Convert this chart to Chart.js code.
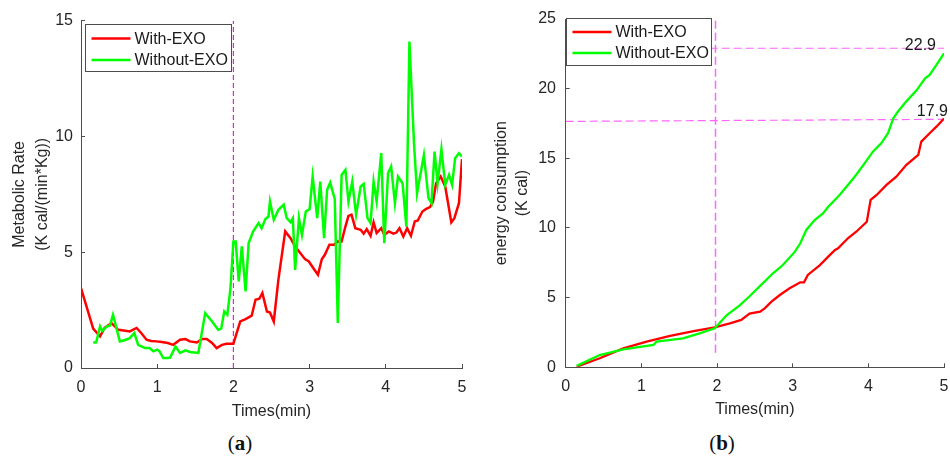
<!DOCTYPE html>
<html><head><meta charset="utf-8">
<script src="https://cdn.jsdelivr.net/npm/chart.js@4.4.0/dist/chart.umd.min.js"></script>
<style>
html,body{margin:0;padding:0;background:#fff;width:950px;height:458px;overflow:hidden;}
canvas{position:absolute;top:0;}
#ca{left:0;} #cb{left:475px;}
.cap{position:absolute;top:430px;width:60px;text-align:center;font-family:"Liberation Serif","Times New Roman",serif;font-size:21px;line-height:26px;color:#111;}
</style></head><body>
<canvas id="ca" width="475" height="430" style="width:475px;height:430px"></canvas>
<canvas id="cb" width="475" height="430" style="width:475px;height:430px"></canvas>
<div class="cap" style="left:210px">(<b>a</b>)</div>
<div class="cap" style="left:692px">(<b>b</b>)</div>
<script>
// ---------- data ----------
const seriesNames = ['With-EXO', 'Without-EXO'];
const xTicks = [0, 1, 2, 3, 4, 5];
const yTicksA = [0, 5, 10, 15];
const yTicksB = [0, 5, 10, 15, 20, 25];

// (a) metabolic rate
const timeWithA = [0,0.16,0.25,0.31,0.40,0.49,0.56,0.64,0.73,0.79,0.86,0.92,0.99,1.06,1.14,1.21,1.30,1.37,1.43,1.52,1.59,1.65,1.72,1.78,1.85,1.91,2.0,2.09,2.16,2.24,2.29,2.34,2.38,2.44,2.48,2.53,2.59,2.68,2.75,2.81,2.88,2.94,2.99,3.05,3.11,3.16,3.20,3.26,3.32,3.37,3.42,3.47,3.51,3.55,3.60,3.67,3.71,3.75,3.80,3.84,3.88,3.94,3.98,4.04,4.10,4.14,4.18,4.23,4.28,4.33,4.38,4.42,4.48,4.53,4.58,4.62,4.66,4.72,4.78,4.86,4.90,4.96,5.0];
const rateWith = [3.45,1.7,1.37,1.73,1.94,1.65,1.62,1.58,1.73,1.51,1.22,1.17,1.15,1.12,1.08,1.0,1.22,1.25,1.15,1.10,1.25,1.25,1.08,0.86,1.0,1.05,1.05,2.01,2.11,2.26,2.95,2.99,3.24,2.44,2.4,2.01,3.81,5.9,5.61,5.25,4.96,4.7,4.6,4.31,4.03,4.7,4.89,5.32,5.32,5.46,5.46,6.11,6.57,6.62,6.04,5.97,5.8,6.0,5.71,6.29,5.83,6.04,5.75,5.9,5.8,5.85,6.04,5.68,6.04,5.71,6.33,6.37,6.76,6.87,6.95,7.19,7.98,8.27,7.84,6.29,6.47,7.12,9.02];
const timeWithoutA = [0.16,0.20,0.25,0.28,0.34,0.38,0.42,0.51,0.57,0.64,0.70,0.75,0.84,0.90,0.95,1.0,1.03,1.08,1.14,1.17,1.24,1.30,1.37,1.43,1.54,1.63,1.72,1.80,1.84,1.88,1.92,1.96,2.0,2.03,2.07,2.11,2.16,2.20,2.26,2.33,2.37,2.42,2.46,2.48,2.53,2.59,2.66,2.70,2.75,2.78,2.81,2.86,2.90,2.95,3.0,3.04,3.10,3.14,3.19,3.23,3.27,3.33,3.37,3.42,3.47,3.51,3.56,3.61,3.67,3.71,3.76,3.80,3.84,3.88,3.94,3.98,4.03,4.07,4.12,4.16,4.22,4.27,4.31,4.37,4.41,4.50,4.56,4.60,4.64,4.68,4.73,4.78,4.83,4.87,4.91,4.96,5.0];
const rateWithout = [1.1,1.11,1.8,1.6,1.8,1.83,2.3,1.15,1.2,1.29,1.51,1.0,0.86,0.86,0.72,0.79,0.72,0.43,0.43,0.45,0.93,0.65,0.76,0.69,0.65,2.37,2.01,1.65,1.7,2.44,2.3,3.38,5.46,5.46,3.74,5.25,3.31,5.4,5.9,6.26,6.04,6.43,6.54,7.19,6.4,6.83,7.05,6.47,6.3,6.47,4.24,6.47,5.75,6.76,6.86,8.27,6.47,8.05,5.61,7.7,8.01,7.3,1.94,8.34,8.56,7.19,8.05,6.62,7.84,7.95,6.47,6.26,8.05,7.19,9.28,5.39,8.42,8.7,7.12,8.27,7.98,6.11,14.1,9.71,7.55,9.2,7.34,7.12,9.35,7.98,9.45,7.91,8.34,7.91,9.06,9.28,9.13];
const guideAx = [2, 2];
const guideAy = [0, 15];

// (b) cumulative energy consumption
const timeWithB = [0.145,0.45,0.76,1.07,1.38,1.69,1.97,2.17,2.32,2.43,2.57,2.63,2.72,2.83,2.96,3.10,3.15,3.20,3.36,3.47,3.56,3.60,3.73,3.84,3.98,4.03,4.11,4.24,4.37,4.50,4.66,4.70,4.81,4.90,5.0];
const energyWith = [0.04,0.65,1.36,1.84,2.25,2.6,2.87,3.16,3.4,3.85,4.0,4.23,4.71,5.19,5.67,6.1,6.1,6.63,7.34,7.94,8.42,8.54,9.26,9.73,10.45,12.01,12.37,13.09,13.68,14.52,15.24,16.2,16.8,17.27,17.85];
const timeWithoutB = [0.145,0.45,0.76,1.16,1.20,1.55,1.77,1.97,2.13,2.30,2.43,2.57,2.74,2.87,3.03,3.10,3.18,3.29,3.40,3.47,3.62,3.82,3.95,4.06,4.17,4.26,4.33,4.39,4.50,4.64,4.75,4.81,4.90,5.0];
const energyWithout = [0.1,0.88,1.29,1.6,1.84,2.08,2.44,2.8,3.75,4.45,5.1,5.84,6.75,7.34,8.3,8.9,9.86,10.57,11.05,11.53,12.37,13.68,14.64,15.48,16.08,16.8,17.87,18.35,19.07,19.9,20.74,20.98,21.7,22.54];
const guideBvx = [1.98, 1.98];
const guideBvy = [1.05, 25];
const guideBhx = [0, 5];
const guideBh1y = [22.9, 22.9];
const guideBh2y = [17.65, 17.8];
const totals = [22.9, 17.9];

// ---------- helpers ----------
const FONT = '"Liberation Sans", Arial, Helvetica, sans-serif';
const TXT = '#262626';
const AX = '#4d4d4d';
const RED = '#ff0000';
const GREEN = '#00ff00';
const pts = (xs, ys) => xs.map((x, i) => ({x, y: ys[i]}));

const decor = {
  id: 'decor',
  afterDraw(chart, args, o) {
    const ctx = chart.ctx, ca = chart.chartArea;
    const xs = chart.scales.x, ys = chart.scales.y;
    ctx.save();
    (o.notes || []).forEach(n => {
      ctx.font = '16px ' + FONT;
      ctx.fillStyle = '#1a1a1a';
      ctx.textAlign = 'right';
      ctx.textBaseline = 'alphabetic';
      ctx.fillText(n.text, xs.getPixelForValue(n.x) + n.dx, ys.getPixelForValue(n.y) + n.dy);
    });
    const L = o.legend;
    const lx = Math.round(ca.left + L.dx) + 0.5, ly = Math.round(ca.top + L.dy) + 0.5;
    ctx.fillStyle = '#fff';
    ctx.fillRect(lx, ly, L.w, L.h);
    ctx.strokeStyle = AX; ctx.lineWidth = 1;
    ctx.strokeRect(lx, ly, L.w, L.h);
    const items = chart.data.datasets.filter(d => d.label).sort((a, b) => a.legendIndex - b.legendIndex);
    items.forEach((d, i) => {
      const yy = ly + L.row0 + i * L.rowGap;
      ctx.strokeStyle = d.borderColor; ctx.lineWidth = d.borderWidth; ctx.setLineDash([]);
      ctx.beginPath(); ctx.moveTo(lx + 6, yy); ctx.lineTo(lx + 45, yy); ctx.stroke();
      ctx.fillStyle = '#1a1a1a'; ctx.font = '16px ' + FONT;
      ctx.textAlign = 'left'; ctx.textBaseline = 'middle';
      ctx.fillText(d.label, lx + 49, yy + 1);
    });
    ctx.restore();
  }
};

function zeroPad(s) { s.paddingLeft = 0; s.paddingRight = 0; s.paddingTop = 0; s.paddingBottom = 0; }

function xAxis(h, titlePadBottom, tickPad) {
  return {
    type: 'linear', min: 0, max: 5,
    afterBuildTicks: s => { s.ticks = xTicks.map(v => ({value: v})); },
    afterFit: s => { s.height = h; zeroPad(s); },
    grid: {display: true, drawOnChartArea: false, drawTicks: true, tickLength: -4, color: AX, lineWidth: 1},
    border: {display: true, color: AX, width: 1},
    ticks: {padding: tickPad, color: TXT, font: {family: FONT, size: 16}, maxRotation: 0, autoSkip: false, callback: v => String(v)},
    title: {display: true, text: 'Times(min)', color: TXT, font: {family: FONT, size: 16}, padding: {top: 0, bottom: titlePadBottom}}
  };
}
function yAxis(w, max, ticksArr, titleLines, lh, titlePadTop, tickPad) {
  return {
    type: 'linear', min: 0, max: max,
    afterBuildTicks: s => { s.ticks = ticksArr.map(v => ({value: v})); },
    afterFit: s => { s.width = w; zeroPad(s); },
    grid: {display: true, drawOnChartArea: false, drawTicks: true, tickLength: -4, color: AX, lineWidth: 1},
    border: {display: true, color: AX, width: 1},
    ticks: {padding: tickPad, color: TXT, font: {family: FONT, size: 16}, autoSkip: false, callback: v => String(v)},
    title: {display: true, text: titleLines, color: TXT, font: {family: FONT, size: 16, lineHeight: lh + 'px'}, padding: {top: titlePadTop, bottom: 0}}
  };
}
function lineDs(label, data, color, width, order, legendIndex) {
  return {label, data, borderColor: color, backgroundColor: color, borderWidth: width, pointRadius: 0, tension: 0, fill: false, order, legendIndex};
}
function guideDs(data, color, width, dash) {
  return {data, borderColor: color, borderWidth: width, borderDash: dash, pointRadius: 0, tension: 0, fill: false, order: 5};
}

// ---------- chart (a) ----------
new Chart(document.getElementById('ca'), {
  type: 'line',
  data: {datasets: [
    lineDs(seriesNames[0], pts(timeWithA, rateWith), RED, 2.5, 1, 0),
    lineDs(seriesNames[1], pts(timeWithoutA, rateWithout), GREEN, 2.5, 0, 1),
    guideDs(pts(guideAx, guideAy), '#dd22dd', 1.2, [5, 3])
  ]},
  options: {
    responsive: false, animation: false, devicePixelRatio: 1,
    layout: {padding: {left: 0, right: 13, top: 20.7, bottom: 0}},
    scales: {
      x: xAxis(62, 8.7, 14.4),
      y: yAxis(81, 15, yTicksA, ['Metabolic Rate', '(K cal/(min*Kg))'], 23, 7.7, 12)
    },
    plugins: {legend: {display: false}, tooltip: {enabled: false},
      decor: {legend: {dx: 4.3, dy: 3.6, w: 146, h: 47, row0: 14, rowGap: 21.5}}}
  },
  plugins: [decor]
});

// ---------- chart (b) ----------
new Chart(document.getElementById('cb'), {
  type: 'line',
  data: {datasets: [
    lineDs(seriesNames[0], pts(timeWithB, energyWith), RED, 2.3, 1, 0),
    lineDs(seriesNames[1], pts(timeWithoutB, energyWithout), GREEN, 2.3, 0, 1),
    guideDs(pts(guideBvx, guideBvy), '#ff66ff', 1.5, [8, 4]),
    guideDs(pts(guideBhx, guideBh1y), '#ff66ff', 1.2, [8, 4]),
    guideDs(pts(guideBhx, guideBh2y), '#ff66ff', 1.2, [8, 4])
  ]},
  options: {
    responsive: false, animation: false, devicePixelRatio: 1,
    layout: {padding: {left: 0, right: 6, top: 19, bottom: 0}},
    scales: {
      x: xAxis(62.7, 10.4, 13.8),
      y: yAxis(90.7, 25, yTicksB, ['energy consumption', '(K cal)'], 21.5, 15.8, 13.7)
    },
    plugins: {legend: {display: false}, tooltip: {enabled: false},
      decor: {
        legend: {dx: 0, dy: -0.7, w: 145, h: 47, row0: 13.5, rowGap: 21},
        notes: [
          {text: totals[0].toFixed(1), x: 5, y: totals[0], dx: -8, dy: 1.7},
          {text: totals[1].toFixed(1), x: 5, y: totals[1], dx: 4, dy: -2}
        ]
      }}
  },
  plugins: [decor]
});
</script>
</body></html>
